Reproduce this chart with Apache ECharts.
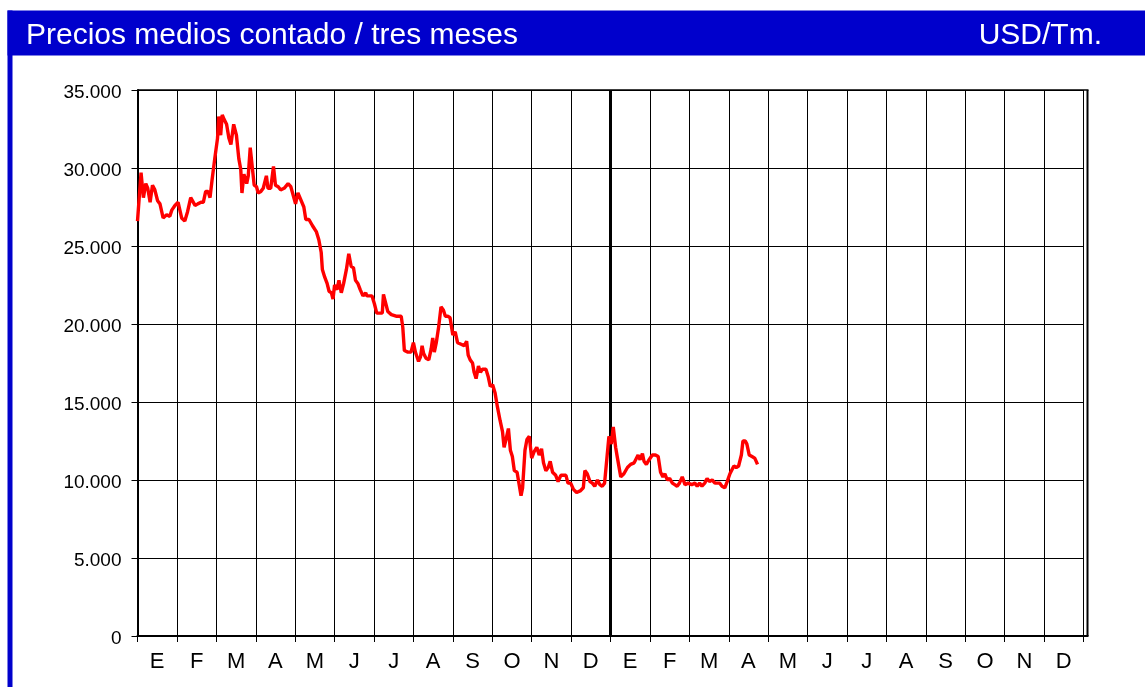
<!DOCTYPE html>
<html>
<head>
<meta charset="utf-8">
<script src="https://cdn.jsdelivr.net/npm/echarts@6/dist/echarts.min.js"></script>
<style>
html,body{margin:0;padding:0;background:#fff;}
#chart{width:1145px;height:687px;}
</style>
</head>
<body>
<div id="chart"></div>
<script>
// Month labels (two years, Spanish initials)
const monthLabels = ['E','F','M','A','M','J','J','A','S','O','N','D','E','F','M','A','M','J','J','A','S','O','N','D'];
// Y axis ticks
const yMin = 0, yMax = 35000, yStep = 5000;
// Position of each observation, in months from the start of the first January
const xMonths = [
0.00,0.09,0.15,0.21,0.26,0.32,0.38,0.44,0.51,0.57,0.65,0.74,0.82,0.87,0.95,1.03,1.12,1.20,1.27,1.35,
1.46,1.53,1.61,1.67,1.73,1.79,1.84,1.89,1.96,2.03,2.06,2.11,2.15,2.20,2.26,2.32,2.37,2.44,2.51,2.57,
2.62,2.65,2.70,2.77,2.81,2.86,2.91,2.96,3.02,3.06,3.13,3.19,3.27,3.31,3.38,3.45,3.50,3.57,3.63,3.72,
3.82,3.89,3.94,4.01,4.07,4.12,4.22,4.27,4.35,4.44,4.54,4.60,4.66,4.69,4.75,4.81,4.86,4.92,4.96,5.00,
5.06,5.11,5.17,5.23,5.30,5.36,5.42,5.48,5.53,5.59,5.65,5.72,5.79,5.82,5.89,5.95,6.01,6.07,6.14,6.21,
6.24,6.29,6.35,6.44,6.56,6.69,6.73,6.77,6.86,6.94,7.00,7.05,7.13,7.18,7.22,7.26,7.32,7.39,7.45,7.49,
7.53,7.58,7.64,7.70,7.76,7.81,7.87,7.93,8.00,8.06,8.12,8.21,8.29,8.35,8.39,8.44,8.50,8.54,8.59,8.65,
8.70,8.75,8.84,8.90,8.95,9.01,9.07,9.13,9.20,9.26,9.30,9.35,9.41,9.46,9.51,9.56,9.63,9.68,9.73,9.77,
9.83,9.88,9.94,10.00,10.06,10.13,10.19,10.25,10.30,10.36,10.42,10.47,10.53,10.61,10.67,10.74,10.87,10.92,10.99,11.06,
11.14,11.23,11.31,11.35,11.41,11.48,11.54,11.60,11.67,11.73,11.79,11.85,11.90,11.96,12.02,12.07,12.13,12.17,12.22,12.26,
12.34,12.43,12.51,12.60,12.65,12.70,12.75,12.81,12.85,12.91,12.98,13.06,13.14,13.21,13.27,13.33,13.38,13.44,13.50,13.57,
13.63,13.69,13.75,13.82,13.89,13.97,14.06,14.14,14.20,14.26,14.32,14.39,14.45,14.51,14.58,14.65,14.70,14.77,14.83,14.90,
14.96,15.03,15.08,15.13,15.19,15.25,15.32,15.36,15.42,15.46,15.52,15.59,15.66,15.73
];
// Average price, USD per tonne
const prices = [
26600,29700,28100,29000,28700,27800,28900,28600,27900,27700,26800,27000,26900,27300,27600,27800,26800,26600,27200,28100,
27600,27700,27800,27800,28500,28500,28100,29200,30600,31900,33300,32100,33400,33100,32800,31900,31500,32800,32100,30600,
29900,28400,29600,29000,29500,31300,30100,28900,28800,28400,28500,28700,29500,28700,28700,30100,28900,28800,28600,28700,
29000,28800,28900,27700,28400,28500,27500,26700,26700,26300,25900,25400,24600,23500,23000,22600,22100,22000,21600,22500,
22200,22800,22000,22600,23500,24500,23700,23600,22800,22600,22200,21800,22000,21800,21800,21800,21300,20700,20700,20700,
21900,21400,20800,20600,20500,20500,19800,18300,18200,18200,18800,18200,17600,17900,18600,18100,17800,17700,18400,19100,
18200,18800,19800,21100,20900,20500,20500,20400,19300,19500,18800,18700,18600,18900,18000,17700,17500,16900,16500,17300,
16900,17100,17100,16600,16000,16100,15600,14700,13800,13100,12100,12600,13300,11900,11500,10600,10500,10500,9000,9500,
11900,12600,12800,11400,11800,12100,11600,12000,11100,10600,10800,11200,10500,10300,9900,10300,10300,9800,9800,9400,
9200,9300,9500,10600,10400,9900,9800,9600,10000,9700,9600,9800,9900,12800,12300,13400,12100,11500,11400,10200,
10400,10800,11000,11100,11200,11600,11300,11700,11200,11000,11300,11600,11600,11500,10500,10200,10400,10000,10100,9800,
9700,9600,9800,10200,9700,9800,9700,9800,9600,9800,9600,9800,10100,9900,10000,9800,9700,9800,9600,9500,
9900,10400,10500,10900,10800,10900,11600,12500,12500,12300,11600,11500,11400,11000
];
const yearBoundary = 12; // month index where the second year starts
const titleText = 'Precios medios contado / tres meses';
const unitText = 'USD/Tm.';

const seriesData = xMonths.map((m, i) => [m, prices[i]]);

const chart = echarts.init(document.getElementById('chart'), null, {renderer: 'canvas'});
const FONT = '"Liberation Sans", Arial, Helvetica, sans-serif';
const GL = 137.5, GT = 90, GW = 946, GH = 546;

chart.setOption({
  animation: false,
  backgroundColor: '#ffffff',
  grid: {left: GL, top: GT, width: GW, height: GH, containLabel: false},
  xAxis: [
    {
      type: 'category',
      data: monthLabels,
      boundaryGap: true,
      axisLine: {show: true, lineStyle: {color: '#000', width: 2}},
      axisTick: {show: true, length: 6, interval: 0, lineStyle: {color: '#000', width: 1}},
      axisLabel: {interval: 0, margin: 15, color: '#000', fontSize: 22, fontFamily: FONT},
      splitLine: {show: true, interval: 0, lineStyle: {color: '#000', width: 1}}
    },
    {
      type: 'value',
      min: 0, max: 24,
      show: false,
      splitLine: {show: false}
    }
  ],
  yAxis: {
    type: 'value',
    min: yMin, max: yMax, interval: yStep,
    axisLine: {show: true, lineStyle: {color: '#000', width: 2}},
    axisTick: {show: true, length: 6, lineStyle: {color: '#000', width: 1}},
    axisLabel: {
      margin: 16, color: '#000', fontSize: 19, fontFamily: FONT,
      lineHeight: 26, verticalAlign: 'top', padding: [-10, 0, 0, 0],
      formatter: v => String(v).replace(/\B(?=(\d{3})+(?!\d))/g, '.')
    },
    splitLine: {show: true, lineStyle: {color: '#000', width: 1}}
  },
  series: [{
    type: 'line',
    xAxisIndex: 1,
    yAxisIndex: 0,
    data: seriesData,
    showSymbol: false,
    symbol: 'none',
    lineStyle: {color: '#ff0000', width: 3.4},
    z: 5,
    markLine: {
      silent: true,
      symbol: 'none',
      label: {show: false},
      lineStyle: {color: '#000', width: 3, type: 'solid'},
      data: [{xAxis: yearBoundary}],
      z: 4
    }
  }],
  graphic: [
    {type: 'rect', shape: {x: 7.5, y: 10.5, width: 1140, height: 45}, style: {fill: '#0000cc'}, z: 0},
    {type: 'rect', shape: {x: 7.5, y: 10.5, width: 5, height: 680}, style: {fill: '#0000cc'}, z: 0},
    {type: 'text', x: 26, y: 36, style: {text: titleText, fill: '#fff', fontSize: 30, fontFamily: FONT, verticalAlign: 'middle', align: 'left'}, z: 10},
    {type: 'text', x: 1102, y: 36, style: {text: unitText, fill: '#fff', fontSize: 30, fontFamily: FONT, verticalAlign: 'middle', align: 'right'}, z: 10},
    {type: 'line', shape: {x1: GL, y1: GT, x2: 1088.5, y2: GT}, style: {stroke: '#000', lineWidth: 1.5}, z: 10},
    {type: 'line', shape: {x1: 1087.5, y1: GT, x2: 1087.5, y2: GT + GH}, style: {stroke: '#000', lineWidth: 2}, z: 10},
    {type: 'line', shape: {x1: GL + GW, y1: GT + GH, x2: 1088.5, y2: GT + GH}, style: {stroke: '#000', lineWidth: 2}, z: 10}
  ]
});
</script>
</body>
</html>
